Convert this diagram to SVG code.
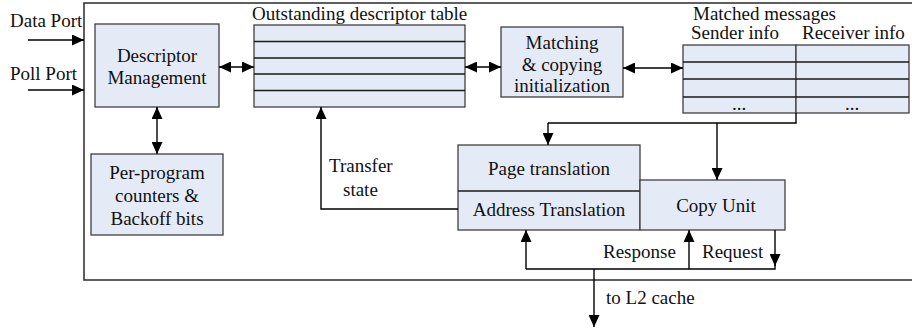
<svg xmlns="http://www.w3.org/2000/svg" width="912" height="332" viewBox="0 0 912 332">
  <defs>
    <marker id="ah" viewBox="0 0 12 11" refX="12" refY="5.5" markerWidth="12" markerHeight="11" orient="auto-start-reverse" markerUnits="userSpaceOnUse">
      <path d="M0,0 L12,5.5 L0,11 z" fill="#000"/>
    </marker>
    <style>
      .c { text-anchor: middle; }
      .box { fill: #e5ebf6; stroke: #404040; stroke-width: 1.3; }
      .row { stroke: #1a1a1a; stroke-width: 1.3; fill: none; }
      .wire { fill: none; stroke: #000; stroke-width: 1.4; }
      .arr { fill: none; stroke: #000; stroke-width: 1.4; marker-end: url(#ah); }
      .arr2 { fill: none; stroke: #000; stroke-width: 1.4; marker-start: url(#ah); marker-end: url(#ah); }
      .frame { fill: none; stroke: #2a2a2a; stroke-width: 1.5; }
    </style>
  </defs>

  <g font-family="Liberation Serif, Times New Roman, serif" font-size="19" fill="#111">
  <!-- enclosing unit (right edge runs past the canvas) -->
  <rect class="frame" x="84" y="3" width="832" height="277"/>

  <!-- external ports -->
  <g id="ports">
    <text x="10" y="27">Data Port</text>
    <text x="10" y="80">Poll Port</text>
  </g>

  <g id="descriptor-management">
    <rect class="box" x="95" y="24" width="124" height="83"/>
    <text class="c" x="157" y="62">Descriptor</text>
    <text class="c" x="157" y="84">Management</text>
  </g>

  <g id="per-program-counters">
    <rect class="box" x="91" y="154" width="132" height="81"/>
    <text class="c" x="157" y="179">Per-program</text>
    <text class="c" x="157" y="202">counters &amp;</text>
    <text class="c" x="157" y="225">Backoff bits</text>
  </g>

  <g id="outstanding-table">
    <text x="252" y="20">Outstanding descriptor table</text>
    <rect class="box" x="254" y="25" width="211" height="82"/>
    <path class="row" d="M254,41.5 H465 M254,58 H465 M254,74 H465 M254,90.5 H465"/>
  </g>

  <g id="matching">
    <rect class="box" x="501" y="27" width="122" height="70"/>
    <text class="c" x="562" y="49">Matching</text>
    <text class="c" x="562" y="71">&amp; copying</text>
    <text class="c" x="562" y="92">initialization</text>
  </g>

  <g id="matched-messages">
    <text x="693" y="20">Matched messages</text>
    <text x="691" y="39">Sender info</text>
    <text x="802" y="39">Receiver info</text>
    <rect class="box" x="683" y="45" width="113" height="68"/>
    <rect class="box" x="796" y="45" width="113" height="68"/>
    <path class="row" d="M683,62 H909 M683,79 H909 M683,97 H909"/>
    <text class="c" x="739" y="110">...</text>
    <text class="c" x="852" y="110">...</text>
  </g>

  <g id="translation">
    <rect class="box" x="458" y="145" width="182" height="85"/>
    <line class="row" x1="458" y1="191" x2="640" y2="191"/>
    <text class="c" x="549" y="175">Page translation</text>
    <text class="c" x="549" y="216">Address Translation</text>
  </g>

  <g id="copy-unit">
    <rect class="box" x="640" y="180" width="145" height="50"/>
    <text class="c" x="716" y="212">Copy Unit</text>
  </g>

  <g id="connectors">
    <line class="arr" x1="28" y1="40" x2="84" y2="40"/>
    <line class="arr" x1="28" y1="90" x2="84" y2="90"/>
    <line class="arr2" x1="219" y1="67" x2="254" y2="67"/>
    <line class="arr2" x1="465" y1="67" x2="501" y2="67"/>
    <line class="arr2" x1="623" y1="68" x2="683" y2="68"/>
    <line class="arr2" x1="157" y1="107" x2="157" y2="154"/>
    <path class="wire" d="M796,113 V123 H548"/>
    <line class="arr" x1="548" y1="123" x2="548" y2="145"/>
    <line class="arr" x1="717" y1="123" x2="717" y2="180"/>
    <path class="arr" d="M458,209 H321 V107"/>
    <text x="329" y="172">Transfer</text>
    <text x="343" y="196">state</text>
    <path class="wire" d="M526,269 H775 V262"/>
    <line class="arr" x1="526" y1="269" x2="526" y2="230"/>
    <line class="arr" x1="689" y1="269" x2="689" y2="230"/>
    <line class="arr" x1="775" y1="230" x2="775" y2="266"/>
    <line class="arr" x1="594" y1="269" x2="594" y2="327"/>
    <text x="603" y="258">Response</text>
    <text x="702" y="258">Request</text>
    <text x="606" y="304">to L2 cache</text>
  </g>
  </g>
</svg>
